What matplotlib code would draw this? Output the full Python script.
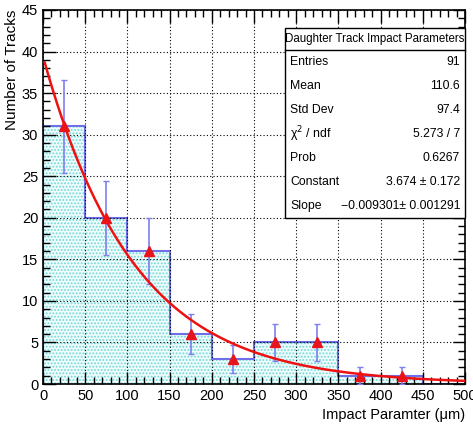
import matplotlib
matplotlib.use("Agg")
import matplotlib.pyplot as plt
import numpy as np
from matplotlib.ticker import MultipleLocator

plt.rcParams['font.family'] = ['Liberation Sans', 'DejaVu Sans']
plt.rcParams['hatch.linewidth'] = 0.9

# histogram contents (bin edges in um)
bin_edges = [0, 50, 100, 150, 200, 250, 300, 350, 400, 450, 500]
counts = [31, 20, 16, 6, 3, 5, 5, 1, 1, 0]
errors = [5.57, 4.47, 4.0, 2.45, 1.73, 2.24, 2.24, 1.0, 1.0, 0.0]

# fit parameters (expo)
fit_const = 3.674
fit_slope = -0.009301

stats_labels = ["Entries", "Mean", "Std Dev", "\u03c7$^{2}$ / ndf", "Prob", "Constant", "Slope"]
stats_values = ["91", "110.6", "97.4", "5.273 / 7", "0.6267",
                "3.674 \u00b1 0.172", "\u22120.009301\u00b1 0.001291"]

fig = plt.figure(figsize=(4.73, 4.24), dpi=100)
ax = fig.add_axes([43 / 473, 40 / 424, 422 / 473, 374 / 424])

edges = np.array(bin_edges)
centers = 0.5 * (edges[:-1] + edges[1:])
widths = np.diff(edges)

ax.bar(edges[:-1], counts, width=widths, align='edge', facecolor='#f0fcfc',
       edgecolor='#70d8d8', linewidth=0, hatch='.....', zorder=1)
ax.stairs(counts, edges, color='#6f6fe8', lw=1.5, baseline=0, zorder=2)

mask = np.array(counts) > 0
ax.errorbar(centers[mask], np.array(counts)[mask], yerr=np.array(errors)[mask],
            fmt='none', ecolor='#7f7fef', elinewidth=1.2, capsize=2.5, zorder=3)
ax.plot(centers[mask], np.array(counts)[mask], '^', color='#e8141c', ms=6.5, zorder=4)

xf = np.linspace(2, 500, 300)
ax.plot(xf, np.exp(fit_const + fit_slope * xf), color='#ee1111', lw=1.8, zorder=5)

ax.set_xlim(0, 500)
ax.set_ylim(0, 45)
ax.xaxis.set_major_locator(MultipleLocator(50))
ax.xaxis.set_minor_locator(MultipleLocator(10))
ax.yaxis.set_major_locator(MultipleLocator(5))
ax.yaxis.set_minor_locator(MultipleLocator(1))
ax.tick_params(which='both', direction='in', top=True, right=True, labelsize=10.5)
ax.tick_params(which='major', length=9, width=1)
ax.tick_params(which='minor', length=5, width=1)
ax.grid(True, which='major', color='black', linestyle=(0, (1, 2)), lw=0.8)
ax.set_axisbelow(False)
for s in ax.spines.values():
    s.set_linewidth(1.2)

ax.set_ylabel("Number of Tracks", fontsize=11, loc='top')
ax.yaxis.set_label_coords(-24 / 422, 1.0)
ax.set_xlabel("Impact Paramter (\u03bcm)", fontsize=10.5, loc='right')
ax.xaxis.set_label_coords(1.0, -24 / 374)

# stats box
bx0, bx1 = 285 / 473, 465 / 473
by_top, by_bot = 1 - 28 / 424, 1 - 218 / 424
fig.patches.append(plt.Rectangle((bx0, by_bot), bx1 - bx0, by_top - by_bot,
                                 transform=fig.transFigure, facecolor='white',
                                 edgecolor='black', lw=1, zorder=10))
title_bot = 1 - 50 / 424
fig.lines.append(plt.Line2D([bx0, bx1], [title_bot, title_bot],
                            transform=fig.transFigure, color='black', lw=1, zorder=11))
fig.text((bx0 + bx1) / 2, (by_top + title_bot) / 2, "Daughter Track Impact Parameters",
         ha='center', va='center', fontsize=8.3, zorder=12)
row_h = (title_bot - by_bot) / len(stats_labels)
for i, (lab, val) in enumerate(zip(stats_labels, stats_values)):
    yy = title_bot - (i + 0.5) * row_h
    fig.text(bx0 + 5 / 473, yy, lab, ha='left', va='center', fontsize=8.8, zorder=12)
    fig.text(bx1 - 5 / 473, yy, val, ha='right', va='center', fontsize=8.8, zorder=12)

fig.savefig("out.png", dpi=100)
